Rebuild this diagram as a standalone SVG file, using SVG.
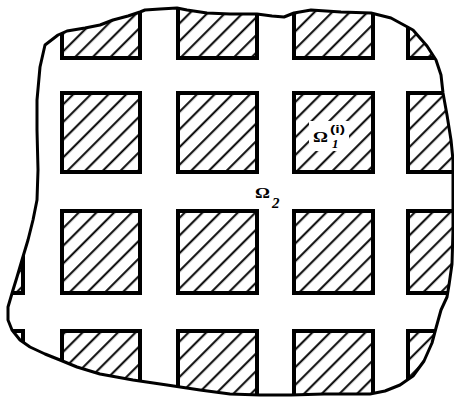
<svg xmlns="http://www.w3.org/2000/svg" width="454" height="397" viewBox="0 0 454 397">
<style>
.sq{fill:url(#hatch);stroke:#000;stroke-width:4;stroke-linejoin:miter}
.edge{fill:none;stroke:#000;stroke-width:3;stroke-linejoin:round;stroke-linecap:round}
.om{font-family:"Liberation Serif",serif;font-weight:bold;fill:#000}
.idx{font-family:"Liberation Serif",serif;font-style:italic;font-weight:bold;fill:#000}
.sup{font-family:"Liberation Sans",sans-serif;font-weight:bold;fill:#000}
</style>
<defs>
<pattern id="hatch" patternUnits="userSpaceOnUse" width="12.5" height="12.5" patternTransform="rotate(45)">
<rect width="12.5" height="12.5" fill="#fff"/>
<line x1="6" y1="0" x2="6" y2="12.5" stroke="#000" stroke-width="2"/>
</pattern>
<path id="outline" d="M58,35 L67,31 L85,28 L100,25 L113,20 L128,16 L140,12 L145,10 L160,9 L177,8 L187,10 L207,13 L230,14 L257,14 L272,16 L284,17 L294,13 L311,10 L341,12 L371,13 L391,18 L413,30 L427,46 L436,60 L441,75 L443,93 L447,115 L451,140 L453,160 L453,200 L453,230 L452,264 L449,285 L447,297 L441,310 L436,328 L432,343 L424,361 L413,376 L400,385 L385,391 L370,394 L357,394 L324,394 L291,395 L260,395 L230,394 L200,390 L167,385 L133,380 L100,374 L77,367 L60,360 L45,354 L30,347 L20,340 L12,330 L8,320 L8,307 L13,290 L17,277 L22,260 L28,240 L33,220 L37,200 L38,170 L37,130 L37,100 L40,67 L45,45 Z"/>
<clipPath id="region"><use href="#outline"/></clipPath>
</defs>
<rect width="454" height="397" fill="#fff"/>
<g id="grid" clip-path="url(#region)">
<g id="row0">
<rect class="sq" x="-54" y="-22" width="77" height="80"/>
<rect class="sq" x="62" y="-22" width="78" height="80"/>
<rect class="sq" x="178" y="-22" width="79" height="80"/>
<rect class="sq" x="294" y="-22" width="79" height="80"/>
<rect class="sq" x="408" y="-22" width="79" height="80"/>
</g>
<g id="row1">
<rect class="sq" x="-54" y="93" width="77" height="79"/>
<rect class="sq" x="62" y="93" width="78" height="79"/>
<rect class="sq" x="178" y="93" width="79" height="79"/>
<rect class="sq" x="294" y="93" width="79" height="79"/>
<rect class="sq" x="408" y="93" width="79" height="79"/>
</g>
<g id="row2">
<rect class="sq" x="-54" y="211" width="77" height="82"/>
<rect class="sq" x="62" y="211" width="78" height="82"/>
<rect class="sq" x="178" y="211" width="79" height="82"/>
<rect class="sq" x="294" y="211" width="79" height="82"/>
<rect class="sq" x="408" y="211" width="79" height="82"/>
</g>
<g id="row3">
<rect class="sq" x="-54" y="331" width="77" height="80"/>
<rect class="sq" x="62" y="331" width="78" height="80"/>
<rect class="sq" x="178" y="331" width="79" height="80"/>
<rect class="sq" x="294" y="331" width="79" height="80"/>
<rect class="sq" x="408" y="331" width="79" height="80"/>
</g>
</g>
<g id="boundary"><use href="#outline" class="edge"/></g>
<g id="label-omega1">
<rect x="309" y="121" width="40" height="30" fill="#fff"/>
<text class="om" x="313" y="142" font-size="14" textLength="15" lengthAdjust="spacingAndGlyphs">Ω</text>
<text class="sup" x="330" y="133" font-size="10" textLength="15" lengthAdjust="spacingAndGlyphs">(i)</text>
<text class="idx" x="332" y="148" font-size="13">1</text>
</g>
<g id="label-omega2">
<text class="om" x="255" y="198" font-size="14" textLength="15" lengthAdjust="spacingAndGlyphs">Ω</text>
<text class="idx" x="272" y="208" font-size="15">2</text>
</g>
</svg>
